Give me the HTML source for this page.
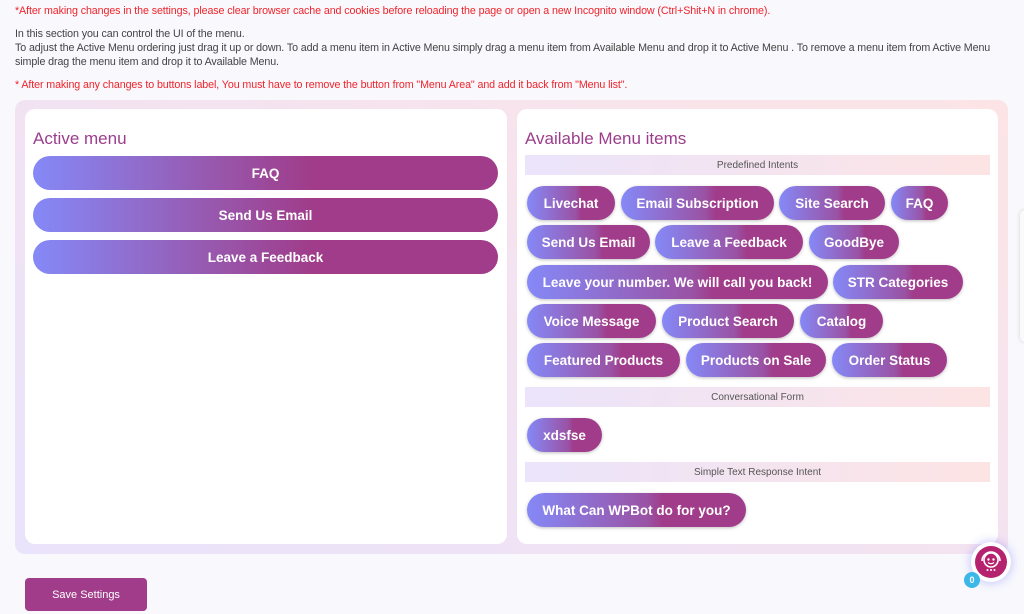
<!DOCTYPE html>
<html><head><meta charset="utf-8"><style>
*{margin:0;padding:0;box-sizing:border-box}
body{width:1024px;height:614px;overflow:hidden;background:#f8f8fd;font-family:"Liberation Sans",sans-serif;position:relative}
.t{position:absolute;left:15px;font-size:10.7px;white-space:nowrap;letter-spacing:-0.1px}
.red{color:#f0242a}.gr{color:#444}
.outer{position:absolute;left:15px;top:100px;width:993px;height:454px;border-radius:10px;background:linear-gradient(30deg,#e9e3fb 0%,#f3e3f1 50%,#fce4e6 100%)}
.panel{position:absolute;background:#fff;border-radius:10px;top:109px;height:435px}
.h{position:absolute;font-size:17px;color:#9c3d8c}
.ab{position:absolute;left:33px;width:465px;height:34px;border-radius:17px;background:linear-gradient(90deg,#8589f7 0%,#9856ab 40%,#a03c8a 60%,#a03c8a 100%);color:#fff;font-weight:bold;font-size:13.5px;display:flex;align-items:center;justify-content:center}
.c{position:absolute;height:34px;border-radius:17px;background:linear-gradient(90deg,#8589f7 0%,#9a52a4 55%,#a03c8a 62%,#a03c8a 100%);color:#fff;font-weight:bold;font-size:13.5px;display:flex;align-items:center;justify-content:center;box-shadow:0 1px 3px rgba(0,0,0,.25);white-space:nowrap}
.sec{position:absolute;left:525px;width:465px;height:20px;background:linear-gradient(90deg,#ebe4fb,#fde4e4);font-size:10px;color:#555;display:flex;align-items:center;justify-content:center}
</style></head><body>
<div class="t red" style="top:5px">*After making changes in the settings, please clear browser cache and cookies before reloading the page or open a new Incognito window (Ctrl+Shit+N in chrome).</div>
<div class="t gr" style="top:28px">In this section you can control the UI of the menu.</div>
<div class="t gr" style="top:42px">To adjust the Active Menu ordering just drag it up or down. To add a menu item in Active Menu simply drag a menu item from Available Menu and drop it to Active Menu . To remove a menu item from Active Menu</div>
<div class="t gr" style="top:56px">simple drag the menu item and drop it to Available Menu.</div>
<div class="t red" style="top:79px">* After making any changes to buttons label, You must have to remove the button from "Menu Area" and add it back from "Menu list".</div>
<div class="outer"></div>
<div class="panel" style="left:25px;width:482px"></div>
<div class="panel" style="left:517px;width:481px"></div>
<div class="h" style="left:33px;top:129px">Active menu</div>
<div class="ab" style="top:156px">FAQ</div>
<div class="ab" style="top:198px">Send Us Email</div>
<div class="ab" style="top:240px">Leave a Feedback</div>
<div class="h" style="left:525px;top:129px">Available Menu items</div>
<div class="sec" style="top:155px">Predefined Intents</div>
<div class="c" style="left:527px;top:186px;width:88px">Livechat</div>
<div class="c" style="left:621px;top:186px;width:153px">Email Subscription</div>
<div class="c" style="left:779px;top:186px;width:106px">Site Search</div>
<div class="c" style="left:891px;top:186px;width:57px">FAQ</div>
<div class="c" style="left:527px;top:225px;width:123px">Send Us Email</div>
<div class="c" style="left:655px;top:225px;width:148px">Leave a Feedback</div>
<div class="c" style="left:809px;top:225px;width:90px">GoodBye</div>
<div class="c" style="left:527px;top:265px;width:301px">Leave your number. We will call you back!</div>
<div class="c" style="left:833px;top:265px;width:130px">STR Categories</div>
<div class="c" style="left:527px;top:304px;width:129px">Voice Message</div>
<div class="c" style="left:662px;top:304px;width:132px">Product Search</div>
<div class="c" style="left:800px;top:304px;width:83px">Catalog</div>
<div class="c" style="left:527px;top:343px;width:153px">Featured Products</div>
<div class="c" style="left:686px;top:343px;width:140px">Products on Sale</div>
<div class="c" style="left:832px;top:343px;width:115px">Order Status</div>
<div class="sec" style="top:387px">Conversational Form</div>
<div class="c" style="left:527px;top:418px;width:75px">xdsfse</div>
<div class="sec" style="top:462px">Simple Text Response Intent</div>
<div class="c" style="left:527px;top:493px;width:219px">What Can WPBot do for you?</div>
<div style="position:absolute;left:1020px;top:210px;width:10px;height:132px;border-radius:6px;background:#fafafa;box-shadow:0 0 4px rgba(0,0,0,.15)"></div>
<div style="position:absolute;left:25px;top:578px;width:122px;height:33px;border-radius:4px;background:#a03c8a;color:#fff;font-size:11px;display:flex;align-items:center;justify-content:center">Save Settings</div>
<div style="position:absolute;left:971px;top:542px;width:40px;height:40px;border-radius:50%;background:#fff;box-shadow:0 0 10px rgba(110,110,255,.45);display:flex;align-items:center;justify-content:center">
<svg width="32" height="32" viewBox="0 0 32 32"><circle cx="16" cy="16" r="16" fill="#b5236e"/><circle cx="16" cy="14" r="7" fill="none" stroke="#fff" stroke-width="1.6"/><circle cx="13.5" cy="13.5" r="1.2" fill="#fff"/><circle cx="18.5" cy="13.5" r="1.2" fill="#fff"/><path d="M13 16.5q3 2.5 6 0" stroke="#fff" stroke-width="1.2" fill="none"/><path d="M7 15a9 9 0 0 1 18 0" stroke="#fff" stroke-width="1.6" fill="none"/><circle cx="12.5" cy="24" r="1" fill="#fff"/><circle cx="16" cy="24" r="1" fill="#fff"/><circle cx="19.5" cy="24" r="1" fill="#fff"/></svg></div>
<div style="position:absolute;left:964px;top:572px;width:16px;height:16px;border-radius:50%;background:#3bb8e8;color:#fff;font-size:9px;font-weight:bold;display:flex;align-items:center;justify-content:center">0</div>
</body></html>
